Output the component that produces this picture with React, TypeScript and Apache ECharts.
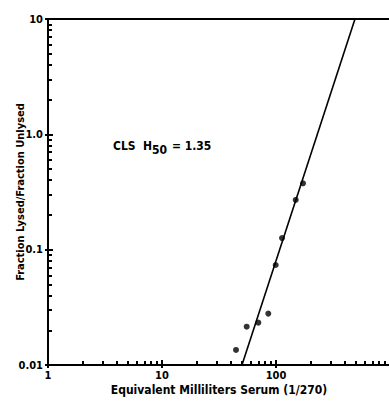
import React, { useEffect, useRef } from "react";
import * as echarts from "echarts";

const pointsX = [44.6, 55.3, 70, 85.6, 99.4, 112.9, 148.9, 172.6];
const pointsY = [0.0135, 0.0215, 0.0233, 0.0279, 0.0736, 0.126, 0.27, 0.376];
const fitX = [50.3, 493];
const fitY = [0.01, 10];
const xMajorTicks = [1, 10, 100, 1000];
const xMinorTicks = [2, 3, 4, 5, 6, 7, 8, 9, 20, 30, 40, 50, 60, 70, 80, 90, 200, 300, 400, 500, 600, 700, 800, 900];
const yMajorTicks = [0.01, 0.1, 1, 10];
const yMinorTicks = [0.02, 0.03, 0.04, 0.05, 0.06, 0.07, 0.08, 0.09, 0.2, 0.3, 0.4, 0.5, 0.6, 0.7, 0.8, 0.9, 2, 3, 4, 5, 6, 7, 8, 9];
const yTickLabels: Record<string, string> = { "0.01": "0.01", "0.1": "0.1", "1": "1.0", "10": "10" };
const xTickLabels: Record<string, string> = { "1": "1", "10": "10", "100": "100", "1000": "" };

const FONT = '"DejaVu Sans Condensed", "Liberation Sans", sans-serif';
const BLACK = "#000";
const TICK_W = 2;

const tickAxis = (kind: "x" | "y", values: number[], length: number, inside: boolean) => {
  const base: any = {
    type: "log",
    logBase: 10,
    position: kind === "x" ? "bottom" : "left",
    axisLine: { show: false },
    axisLabel: { show: false },
    splitLine: { show: false },
    axisTick: { show: true, inside, length, customValues: values, lineStyle: { color: BLACK, width: TICK_W } },
  };
  if (kind === "x") {
    base.min = 1;
    base.max = 1000;
  } else {
    base.min = 0.01;
    base.max = 10;
  }
  return base;
};

export default function App() {
  const ref = useRef<HTMLDivElement>(null);
  useEffect(() => {
    const chart = echarts.init(ref.current!, null, { renderer: "svg" });
    chart.setOption({
      animation: false,
      backgroundColor: "#fff",
      grid: { left: 48, top: 19, width: 342, height: 346, outerBoundsMode: "none", containLabel: false },
      xAxis: [
        {
          type: "log",
          logBase: 10,
          min: 1,
          max: 1000,
          position: "bottom",
          axisLine: { show: true, lineStyle: { color: BLACK, width: 2 } },
          axisTick: { show: true, inside: true, length: 5, customValues: xMajorTicks, lineStyle: { color: BLACK, width: TICK_W } },
          splitLine: { show: false },
          axisLabel: {
            color: BLACK,
            fontFamily: FONT,
            fontWeight: "bold",
            fontSize: 11,
            margin: 5,
            formatter: (v: number) => xTickLabels[String(Math.round(v))] ?? "",
          },
          name: "Equivalent Milliliters Serum (1/270)",
          nameLocation: "middle",
          nameGap: 19,
          nameMoveOverlap: false,
          nameTextStyle: { color: BLACK, fontFamily: FONT, fontWeight: "bold", fontSize: 12 },
        },
        {
          type: "log",
          logBase: 10,
          min: 1,
          max: 1000,
          position: "top",
          axisLine: { show: true, lineStyle: { color: BLACK, width: 2 } },
          axisTick: { show: false },
          axisLabel: { show: false },
          splitLine: { show: false },
        },
        tickAxis("x", xMinorTicks, 4, true),
        tickAxis("x", xMajorTicks, 3, false),
      ],
      yAxis: [
        {
          type: "log",
          logBase: 10,
          min: 0.01,
          max: 10,
          position: "left",
          axisLine: { show: true, lineStyle: { color: BLACK, width: 2 } },
          axisTick: { show: true, inside: true, length: 5, customValues: yMajorTicks, lineStyle: { color: BLACK, width: TICK_W } },
          splitLine: { show: false },
          axisLabel: {
            color: BLACK,
            fontFamily: FONT,
            fontWeight: "bold",
            fontSize: 11,
            margin: 5,
            formatter: (v: number) => {
              const k = String(parseFloat(v.toPrecision(3)));
              return yTickLabels[k] ?? "";
            },
          },
          name: "Fraction Lysed/Fraction Unlysed",
          nameLocation: "middle",
          nameGap: 22,
          nameMoveOverlap: false,
          nameTextStyle: { color: BLACK, fontFamily: FONT, fontWeight: "bold", fontSize: 11 },
        },
        tickAxis("y", yMinorTicks, 4, true),
        tickAxis("y", yMajorTicks, 3, false),
      ],
      graphic: [
        {
          type: "text",
          left: 113,
          top: 140,
          style: {
            text: "CLS  H{sub|50} = 1.35",
            fill: BLACK,
            font: `bold 12px ${FONT}`,
            rich: {
              sub: { fontFamily: FONT, fontWeight: "bold", fontSize: 12, padding: [7, 1, 0, 0], fill: BLACK },
            },
          },
        },
      ],
      series: [
        {
          type: "line",
          xAxisIndex: 0,
          yAxisIndex: 0,
          data: fitX.map((x, i) => [x, fitY[i]]),
          showSymbol: false,
          symbol: "none",
          lineStyle: { color: BLACK, width: 1.6 },
          z: 3,
        },
        {
          type: "scatter",
          xAxisIndex: 0,
          yAxisIndex: 0,
          data: pointsX.map((x, i) => [x, pointsY[i]]),
          symbolSize: 6,
          itemStyle: { color: BLACK },
          z: 4,
        },
      ],
    });
    return () => chart.dispose();
  }, []);
  return <div ref={ref} style={{ position: "absolute", left: 0, top: 0, width: 389, height: 402 }} />;
}
